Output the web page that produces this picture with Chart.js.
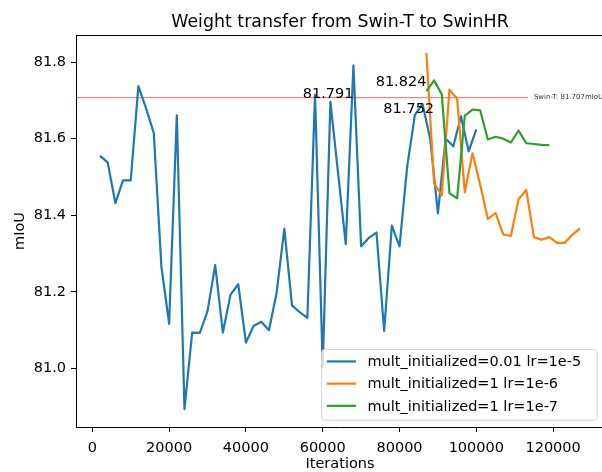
<!DOCTYPE html>
<html><head><meta charset="utf-8">
<script src="https://cdn.jsdelivr.net/npm/chart.js@4.4.0/dist/chart.umd.min.js"></script>
<style>html,body{margin:0;padding:0;overflow:hidden;background:#fff;width:602px;height:472px}canvas{display:block}</style>
</head><body>
<canvas id="c" width="620" height="472"></canvas>
<script>
const blueX = [2000,4000,6000,8000,10000,12000,14000,16000,18000,20000,22000,24000,26000,28000,30000,32000,34000,36000,38000,40000,42000,44000,46000,48000,50000,52000,54000,56000,58000,60000,62000,64000,66000,68000,70000,72000,74000,76000,78000,80000,82000,84000,86000,88000,90000,92000,94000,96000,98000,100000];
const blueY = [81.555,81.538,81.432,81.491,81.491,81.737,81.679,81.615,81.265,81.117,
               81.661,80.894,81.094,81.093,81.150,81.270,81.094,81.193,81.220,81.068,
               81.111,81.122,81.100,81.198,81.365,81.165,81.147,81.132,81.715,81.005,
               81.696,81.510,81.325,81.791,81.319,81.341,81.355,81.098,81.373,81.319,
               81.527,81.662,81.690,81.600,81.405,81.600,81.580,81.658,81.567,81.624];
const orangeX = [87000,89000,91000,93000,95000,97000,99000,101000,103000,105000,107000,109000,111000,113000,115000,117000,119000,121000,123000,125000,127000];
const orangeY = [81.824,81.484,81.452,81.728,81.705,81.460,81.562,81.480,81.390,81.406,81.350,81.346,81.442,81.466,81.343,81.336,81.343,81.328,81.328,81.349,81.366];
const greenX = [87000,89000,91000,93000,95000,97000,99000,101000,103000,105000,107000,109000,111000,113000,115000,117000,119000];
const greenY = [81.724,81.752,81.716,81.458,81.444,81.660,81.676,81.674,81.598,81.605,81.600,81.590,81.621,81.588,81.586,81.584,81.583];
const refX = [-4250,113400];
const refY = [81.707,81.707];
const refLabel = 'Swin-T: 81.707mIoU';
const refLabelX = 115000;
const xTicks = [0,20000,40000,60000,80000,100000,120000];
const yTicks = [81.0,81.2,81.4,81.6,81.8];
const seriesLabels = ['mult_initialized=0.01 lr=1e-5','mult_initialized=1 lr=1e-6','mult_initialized=1 lr=1e-7'];
const seriesColors = ['#1f77b4','#ff7f0e','#2ca02c'];
const titleText = 'Weight transfer from Swin-T to SwinHR';
const xTitle = 'Iterations';
const yTitle = 'mIoU';

const FONT = '"DejaVu Sans", sans-serif';
const FS = 14.5;
const pts = (xs, ys) => xs.map((x, i) => ({x, y: ys[i]}));

const deco = {
  id: 'deco',
  afterDatasetsDraw(chart) {
    const {ctx, chartArea: a, scales: {x, y}} = chart;
    ctx.save();
    ctx.strokeStyle = '#000'; ctx.lineWidth = 1;
    ctx.beginPath();
    ctx.moveTo(a.left, Math.round(a.top) + 0.5);
    ctx.lineTo(a.right, Math.round(a.top) + 0.5);
    ctx.lineTo(a.right, a.bottom);
    ctx.stroke();
    ctx.font = FS + 'px ' + FONT; ctx.fillStyle = '#000';
    ctx.textAlign = 'right'; ctx.textBaseline = 'alphabetic';
    [[blueX, blueY], [orangeX, orangeY], [greenX, greenY]].forEach(([xs, ys]) => {
      let m = 0; ys.forEach((v, i) => { if (v > ys[m]) m = i; });
      ctx.fillText(ys[m].toFixed(3), x.getPixelForValue(xs[m]), y.getPixelForValue(ys[m]) + 33);
    });
    ctx.font = '7px ' + FONT; ctx.fillStyle = '#333'; ctx.textAlign = 'left'; ctx.textBaseline = 'middle';
    ctx.fillText(refLabel, x.getPixelForValue(refLabelX), y.getPixelForValue(refY[0]));
    ctx.font = FS + 'px ' + FONT;
    const pad = 5.8, hl = 29, htp = 11.6, rowH = 22.2;
    const w = 275.7, h = 70.7;
    const rx = a.right - 7.25, by = a.bottom - 7.25;
    const lx = rx - w, ty = by - h;
    ctx.beginPath();
    if (ctx.roundRect) ctx.roundRect(lx + 0.5, ty + 0.5, w, h, 3); else ctx.rect(lx + 0.5, ty + 0.5, w, h);
    ctx.fillStyle = 'rgba(255,255,255,0.8)'; ctx.fill();
    ctx.strokeStyle = 'rgba(204,204,204,0.8)'; ctx.lineWidth = 1; ctx.stroke();
    ctx.textAlign = 'left'; ctx.textBaseline = 'middle';
    seriesLabels.forEach((s, i) => {
      const cy = ty + 12.4 + i * rowH;
      ctx.strokeStyle = seriesColors[i]; ctx.lineWidth = 2.2;
      ctx.beginPath(); ctx.moveTo(lx + pad, cy); ctx.lineTo(lx + pad + hl, cy); ctx.stroke();
      ctx.fillStyle = '#000';
      ctx.fillText(s, lx + pad + hl + htp, cy + 1);
    });
    ctx.restore();
  },
  afterDraw(chart) {
    const {ctx, chartArea: a} = chart;
    ctx.save();
    ctx.fillStyle = '#000';
    ctx.textAlign = 'center'; ctx.textBaseline = 'alphabetic';
    ctx.font = '17.4px ' + FONT;
    ctx.fillText(titleText, (a.left + a.right) / 2, 26.5);
    ctx.font = FS + 'px ' + FONT;
    ctx.fillText(xTitle, (a.left + a.right) / 2, 468);
    ctx.translate(24, (a.top + a.bottom) / 2);
    ctx.rotate(-Math.PI / 2);
    ctx.fillText(yTitle, 0, 0);
    ctx.restore();
  }
};

const tickFont = {family: FONT, size: FS};
new Chart(document.getElementById('c'), {
  type: 'line',
  data: {
    datasets: [
      {label: seriesLabels[0], data: pts(blueX, blueY), borderColor: seriesColors[0], order: 3},
      {label: seriesLabels[1], data: pts(orangeX, orangeY), borderColor: seriesColors[1], order: 2},
      {label: seriesLabels[2], data: pts(greenX, greenY), borderColor: seriesColors[2], order: 1},
      {label: 'ref', data: pts(refX, refY), borderColor: 'rgba(255,0,0,0.5)', borderWidth: 1.2, order: 4}
    ].map(d => Object.assign({borderWidth: 2.2, pointRadius: 0, tension: 0, fill: false, borderJoinStyle: 'round'}, d))
  },
  options: {
    responsive: false, animation: false, devicePixelRatio: 1,
    layout: {padding: {left: 0, top: 35, right: 16, bottom: 0}},
    plugins: {legend: {display: false}, tooltip: {enabled: false}, title: {display: false}},
    scales: {
      x: {
        type: 'linear', min: -4250, max: 133250,
        afterBuildTicks: s => { s.ticks = xTicks.map(v => ({value: v})); },
        afterFit: s => { s.height = 45; },
        ticks: {font: tickFont, color: '#000', padding: 8, maxRotation: 0, autoSkip: false, callback: v => String(v)},
        grid: {drawOnChartArea: false, drawTicks: true, tickLength: 5, color: '#000'},
        border: {display: true, color: '#000', width: 1}
      },
      y: {
        type: 'linear', min: 80.8475, max: 81.8705,
        afterBuildTicks: s => { s.ticks = yTicks.map(v => ({value: v})); },
        afterFit: s => { s.width = 76; },
        ticks: {font: tickFont, color: '#000', padding: 5, autoSkip: false, callback: v => v.toFixed(1)},
        grid: {drawOnChartArea: false, drawTicks: true, tickLength: 5, color: '#000'},
        border: {display: true, color: '#000', width: 1}
      }
    }
  },
  plugins: [deco]
});
</script>
</body></html>
